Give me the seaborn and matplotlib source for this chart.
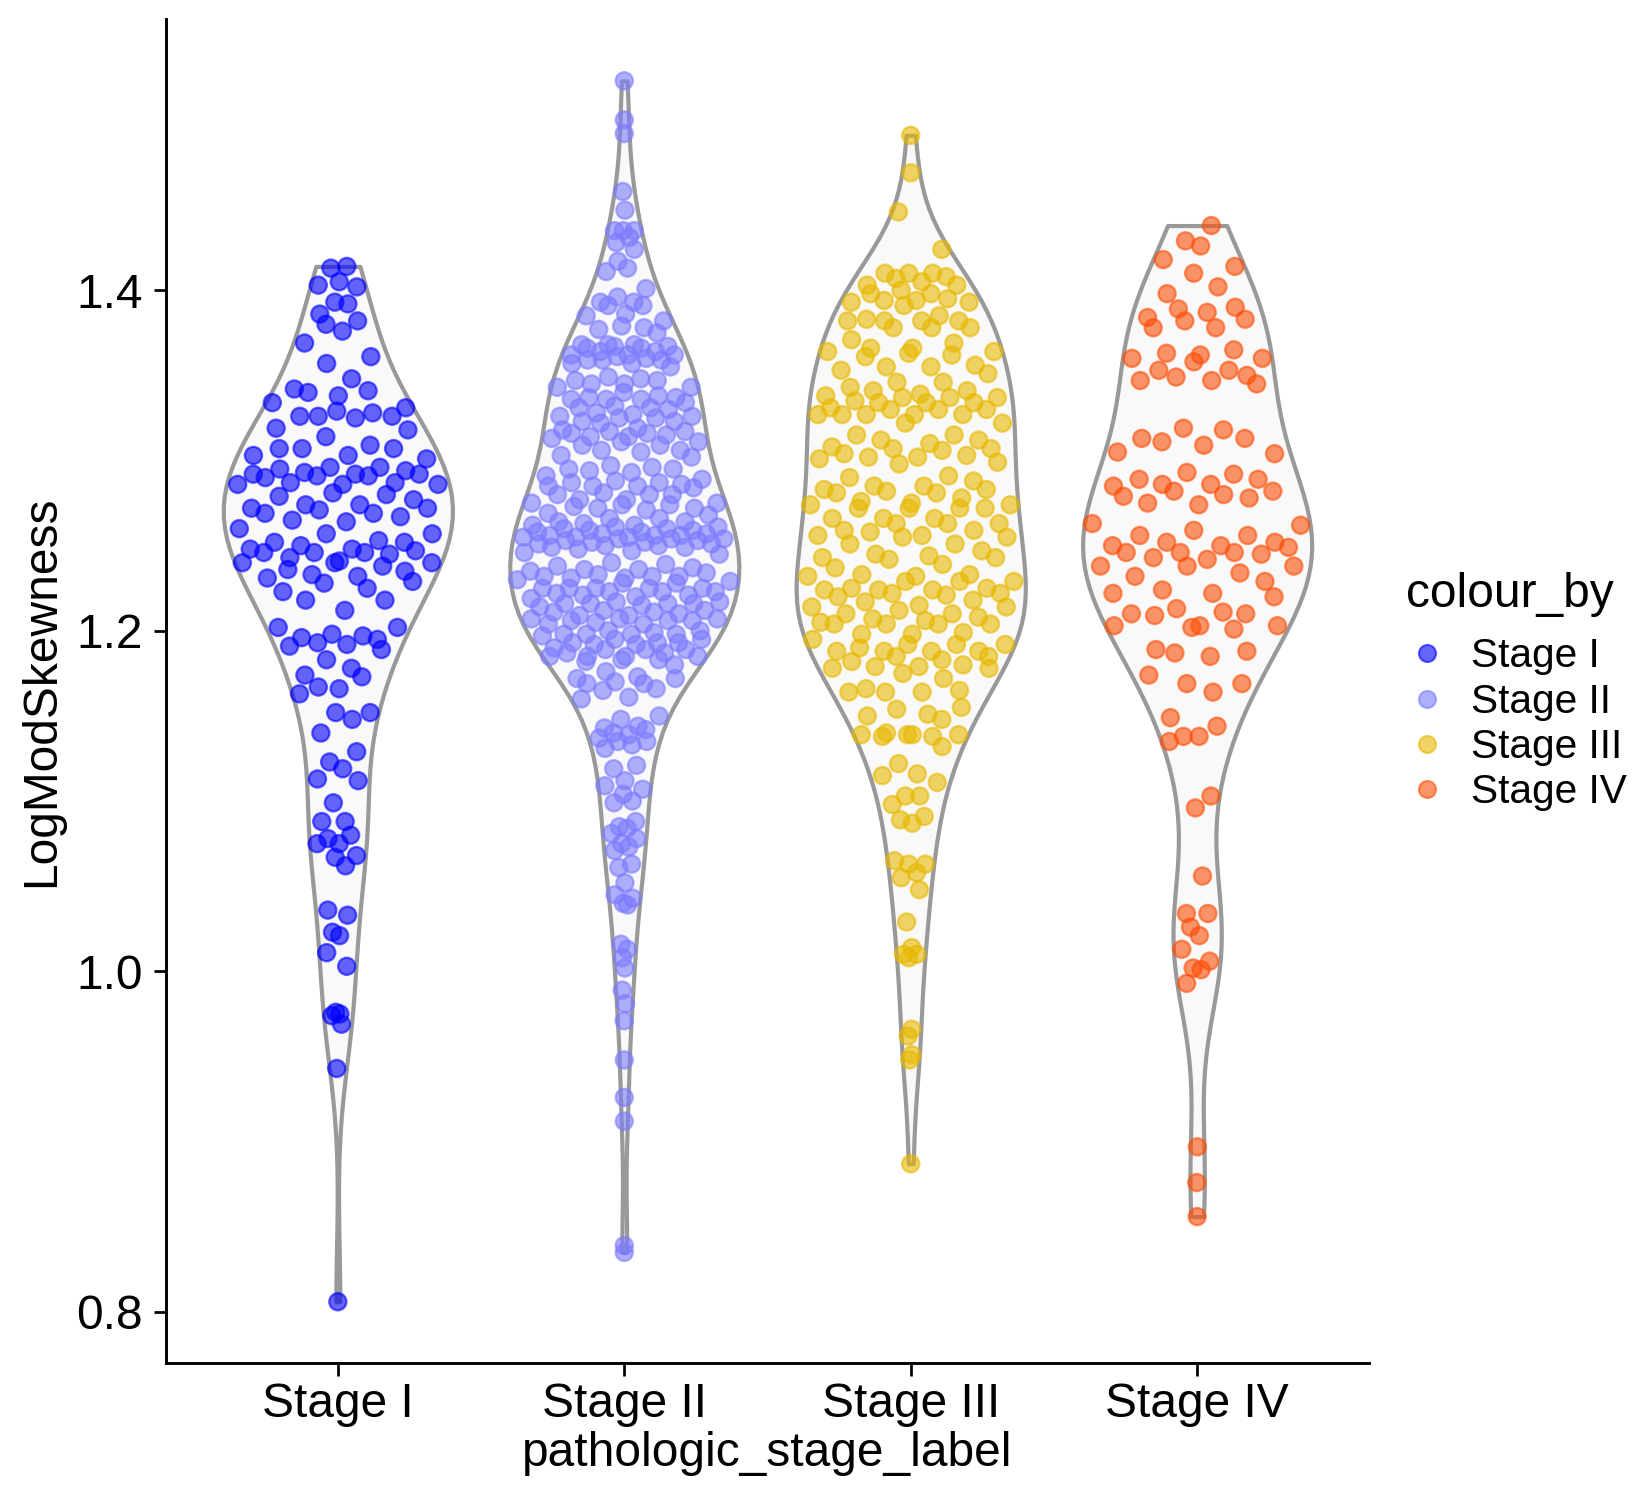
import numpy as np
import pandas as pd
import matplotlib
matplotlib.use("Agg")
import matplotlib.pyplot as plt
from matplotlib.lines import Line2D
import seaborn as sns

# values, one list per stage
stages = ["Stage I", "Stage II", "Stage III", "Stage IV"]
colours = ["#0000FF", "#7B7BFF", "#E7B800", "#FC4E07"]

stage_i = [
    1.414, 1.413, 1.405, 1.403, 1.402, 1.393, 1.392, 1.386, 1.382, 1.380, 1.376, 1.369,
    1.361, 1.357, 1.348, 1.342, 1.341, 1.340, 1.338, 1.334, 1.331, 1.329, 1.328, 1.326,
    1.326, 1.326, 1.325, 1.319, 1.318, 1.314, 1.309, 1.307, 1.307, 1.307, 1.303, 1.303,
    1.301, 1.296, 1.296, 1.295, 1.294, 1.293, 1.292, 1.292, 1.292, 1.291, 1.291, 1.290,
    1.287, 1.287, 1.286, 1.286, 1.286, 1.281, 1.280, 1.279, 1.277, 1.274, 1.274, 1.272,
    1.272, 1.271, 1.269, 1.269, 1.267, 1.265, 1.264, 1.260, 1.257, 1.257, 1.253, 1.252,
    1.252, 1.250, 1.248, 1.248, 1.247, 1.246, 1.246, 1.246, 1.245, 1.243, 1.241, 1.240,
    1.240, 1.240, 1.238, 1.236, 1.235, 1.233, 1.232, 1.231, 1.229, 1.228, 1.225, 1.223,
    1.218, 1.218, 1.212, 1.202, 1.202,
    1.198, 1.197, 1.196, 1.195, 1.193, 1.192, 1.191, 1.189, 1.183, 1.178, 1.174, 1.173,
    1.167, 1.166, 1.163, 1.152, 1.152, 1.148, 1.140, 1.129, 1.123, 1.119, 1.113, 1.112,
    1.099, 1.088, 1.088, 1.080, 1.078, 1.075, 1.075, 1.068, 1.067, 1.062, 1.036, 1.033,
    1.023, 1.021, 1.011, 1.003, 0.976, 0.975, 0.974, 0.969, 0.943, 0.806,
]

stage_ii = [
    1.523, 1.500, 1.492, 1.458, 1.447, 1.435, 1.435, 1.435, 1.431, 1.428, 1.424, 1.417,
    1.413, 1.411, 1.401, 1.396, 1.393, 1.393, 1.391, 1.391, 1.386, 1.385,
    1.379, 1.382, 1.377, 1.375, 1.378,
    1.367, 1.368, 1.368, 1.364, 1.362, 1.361, 1.360, 1.357, 1.355, 1.366, 1.367, 1.362,
    1.359, 1.368, 1.364, 1.357, 1.362, 1.366, 1.359, 1.359,
    1.348, 1.345, 1.343, 1.347, 1.349, 1.345, 1.343, 1.347, 1.337, 1.336, 1.337, 1.340,
    1.336, 1.336, 1.338, 1.334,
    1.331, 1.332, 1.330, 1.331, 1.325, 1.328, 1.326, 1.323, 1.326, 1.323, 1.327, 1.325,
    1.322, 1.319,
    1.317, 1.315, 1.314, 1.316, 1.318, 1.316, 1.314, 1.317, 1.311, 1.309, 1.313, 1.309,
    1.311, 1.306, 1.305, 1.306, 1.302, 1.303,
    1.295, 1.293, 1.296, 1.291, 1.295, 1.294, 1.297, 1.289, 1.287, 1.287, 1.288, 1.285,
    1.285, 1.285, 1.284, 1.286,
    1.280, 1.277, 1.280, 1.275, 1.280, 1.277, 1.281, 1.275, 1.272, 1.274, 1.273, 1.272,
    1.274, 1.271, 1.268, 1.269,
    1.264, 1.262, 1.266, 1.264, 1.266, 1.261,
    1.263, 1.262, 1.261, 1.260, 1.260, 1.259, 1.259, 1.258, 1.258, 1.257, 1.257, 1.256,
    1.256, 1.256, 1.255, 1.255, 1.255, 1.254, 1.254, 1.254, 1.253, 1.253, 1.252, 1.252,
    1.251, 1.251, 1.250, 1.250, 1.249, 1.249, 1.248, 1.247, 1.246, 1.245,
    1.238, 1.236, 1.240, 1.236, 1.239, 1.237, 1.234, 1.235, 1.230, 1.232, 1.231, 1.233,
    1.231, 1.232, 1.232, 1.229, 1.228, 1.225, 1.225, 1.228, 1.225, 1.225, 1.225, 1.222,
    1.221, 1.223, 1.219, 1.221, 1.223, 1.223, 1.220, 1.216, 1.217, 1.216, 1.214, 1.216,
    1.217, 1.216, 1.215, 1.209, 1.212, 1.211, 1.209, 1.211, 1.212, 1.210, 1.207, 1.206,
    1.204, 1.206, 1.207, 1.207, 1.204, 1.205, 1.206,
    1.198, 1.198, 1.197, 1.200, 1.198, 1.199, 1.198, 1.200, 1.193, 1.192, 1.195, 1.192,
    1.193, 1.193, 1.189, 1.190, 1.189, 1.189, 1.187, 1.185, 1.185, 1.195, 1.187, 1.185,
    1.185,
    1.182, 1.183, 1.180, 1.183, 1.176, 1.172, 1.172, 1.173, 1.170, 1.169, 1.169, 1.165,
    1.166, 1.160, 1.161,
    1.148, 1.150, 1.140, 1.143, 1.142, 1.144, 1.137, 1.133, 1.135, 1.135, 1.131, 1.139,
    1.121, 1.119, 1.112, 1.109, 1.107, 1.104, 1.100, 1.099, 1.088, 1.085, 1.084, 1.081,
    1.078, 1.075, 1.073, 1.071, 1.063, 1.061, 1.052, 1.045, 1.043, 1.040, 1.039, 1.016,
    1.013, 1.008, 1.002, 0.989, 0.981, 0.971, 0.948, 0.926, 0.912, 0.839, 0.835,
]

stage_iii = [
    1.491, 1.469, 1.446, 1.424, 1.410, 1.410, 1.410, 1.407, 1.408, 1.405, 1.403, 1.403,
    1.400, 1.398, 1.398, 1.395, 1.394, 1.394, 1.393, 1.393, 1.391, 1.383, 1.385, 1.382,
    1.382, 1.382, 1.382, 1.378, 1.378, 1.378, 1.371, 1.369, 1.366, 1.366, 1.364, 1.364,
    1.363, 1.362, 1.361, 1.356, 1.355, 1.355, 1.353, 1.351, 1.346, 1.346, 1.343, 1.341,
    1.341, 1.339, 1.338, 1.337, 1.337, 1.337, 1.335, 1.334, 1.334, 1.334, 1.331, 1.330,
    1.330, 1.330, 1.327, 1.327, 1.327, 1.327, 1.327, 1.322, 1.322, 1.315, 1.315, 1.312,
    1.312, 1.310, 1.308, 1.307, 1.307, 1.306, 1.304, 1.303, 1.302, 1.302, 1.301, 1.299,
    1.298, 1.291, 1.290, 1.288, 1.285, 1.285, 1.283, 1.283, 1.282, 1.281, 1.281, 1.278,
    1.276, 1.275, 1.274, 1.274, 1.272, 1.272, 1.272, 1.272,
    1.266, 1.266, 1.266, 1.263, 1.263, 1.263, 1.259, 1.259, 1.258, 1.256, 1.256, 1.255,
    1.255, 1.251, 1.251, 1.247, 1.245, 1.244, 1.243, 1.243, 1.242, 1.239, 1.237, 1.233,
    1.233, 1.232, 1.232, 1.229, 1.229, 1.229, 1.225, 1.225, 1.224, 1.224, 1.224, 1.222,
    1.222, 1.221, 1.220, 1.218, 1.217, 1.215, 1.214, 1.214, 1.212, 1.210, 1.210, 1.208,
    1.207, 1.206, 1.205, 1.204, 1.204, 1.204, 1.204, 1.199, 1.198, 1.198, 1.195, 1.192,
    1.192, 1.192, 1.190, 1.188, 1.188, 1.188, 1.188, 1.185, 1.185, 1.183, 1.182, 1.180,
    1.179, 1.179, 1.178, 1.178, 1.175, 1.172, 1.166, 1.165, 1.164, 1.164, 1.164, 1.155,
    1.154, 1.151, 1.150, 1.148, 1.140, 1.139, 1.139, 1.139, 1.139, 1.138, 1.138, 1.132,
    1.122, 1.116, 1.115, 1.111, 1.103, 1.103, 1.098, 1.091, 1.089, 1.087, 1.065, 1.063,
    1.063, 1.058, 1.055, 1.048, 1.029, 1.014, 1.010, 1.010, 1.008,
    0.966, 0.962, 0.951, 0.948, 0.887,
]

stage_iv = [
    1.438, 1.429, 1.426, 1.418, 1.414, 1.410, 1.402, 1.398, 1.390, 1.389, 1.387, 1.384,
    1.383, 1.382, 1.378, 1.378, 1.365, 1.363, 1.362, 1.360, 1.360, 1.358, 1.353, 1.353,
    1.350, 1.349, 1.347, 1.347, 1.345, 1.319, 1.318, 1.313, 1.313, 1.311, 1.309, 1.305,
    1.304, 1.293, 1.292, 1.289, 1.289, 1.286, 1.286, 1.285, 1.282, 1.282, 1.280, 1.279,
    1.278, 1.275, 1.274, 1.263, 1.262, 1.259, 1.256, 1.256, 1.252, 1.252, 1.250, 1.250,
    1.249, 1.246, 1.246, 1.246, 1.245, 1.243, 1.242, 1.238, 1.238, 1.238, 1.234, 1.232,
    1.229, 1.224, 1.222, 1.222, 1.220, 1.213, 1.211, 1.210, 1.210, 1.209, 1.203, 1.203,
    1.203, 1.202, 1.201,
    1.189, 1.187, 1.185, 1.188, 1.174, 1.169, 1.169, 1.164, 1.149, 1.144, 1.138, 1.138,
    1.135, 1.103, 1.096, 1.056, 1.034, 1.034, 1.026, 1.021, 1.013, 1.006, 1.002, 1.001,
    0.993, 0.897, 0.876, 0.856,
]

y_ticks = [0.8, 1.0, 1.2, 1.4]
BW_ADJUST = 0.85
VIOLIN_WIDTH = 0.8


def van_der_corput(n):
    out = np.zeros(n)
    for i in range(n):
        k, denom, v = i + 1, 1.0, 0.0
        while k:
            denom *= 2
            k, r = divmod(k, 2)
            v += r / denom
        out[i] = v
    return out


def quasirandom_x(vals, pos):
    # spread points like ggbeeswarm::geom_quasirandom, bounded by the violin width
    vals = np.asarray(vals)
    bw = vals.std(ddof=1) * len(vals) ** (-0.2) * BW_ADJUST
    dens = lambda y: np.exp(-0.5 * ((np.asarray(y)[:, None] - vals[None, :]) / bw) ** 2).sum(1)
    grid = np.linspace(vals.min(), vals.max(), 100)
    half = VIOLIN_WIDTH / 2 * dens(vals) / dens(grid).max()
    offs = np.zeros(len(vals))
    offs[np.argsort(vals, kind="stable")] = (van_der_corput(len(vals)) - 0.5) * 2
    return pos + offs * np.maximum(half - 0.022, 0)


groups = [stage_i, stage_ii, stage_iii, stage_iv]
df = pd.concat(
    [pd.DataFrame({"stage": s, "value": g, "xpos": quasirandom_x(g, i)})
     for i, (s, g) in enumerate(zip(stages, groups))],
    ignore_index=True,
)

sns.set_theme(style="ticks")
plt.rcParams["font.family"] = ["Liberation Sans", "DejaVu Sans"]
plt.rcParams["text.color"] = "black"
plt.rcParams["axes.labelcolor"] = "black"

fig = plt.figure(figsize=(11, 10), dpi=150)
ax = fig.add_axes([0.1006, 0.0913, 0.7291, 0.8957])

sns.violinplot(
    data=df, x="stage", y="value", order=stages, ax=ax,
    inner=None, cut=0, density_norm="width", bw_adjust=BW_ADJUST, width=VIOLIN_WIDTH,
    color="#F9F9F9", saturation=1, linecolor="#999999", linewidth=2.0,
)
sns.scatterplot(
    data=df, x="xpos", y="value", hue="stage", hue_order=stages, palette=colours,
    s=68, alpha=0.6, edgecolor="face", linewidth=1.1, legend=False, ax=ax, zorder=3,
)

ax.set_xlim(-0.6, 3.6)
ax.set_ylim(0.77, 1.559)
ax.set_yticks(y_ticks)
ax.set_yticklabels([f"{t:.1f}" for t in y_ticks])
ax.set_xticks(range(len(stages)))
ax.set_xticklabels(stages)
ax.set_xlabel("pathologic_stage_label", fontsize=23, labelpad=2, color="black")
ax.set_ylabel("LogModSkewness", fontsize=23, labelpad=6, color="black")
ax.tick_params(axis="both", labelsize=23, length=6, width=1.3, color="black", labelcolor="black")
ax.tick_params(axis="y", pad=5)
ax.tick_params(axis="x", pad=3)
for side in ["top", "right"]:
    ax.spines[side].set_visible(False)
for side in ["left", "bottom"]:
    ax.spines[side].set_linewidth(1.4)
    ax.spines[side].set_color("black")

handles = [Line2D([], [], marker="o", linestyle="", markersize=8.2, color=c,
                  markeredgecolor=c, alpha=0.6) for c in colours]
leg = fig.legend(
    handles, stages, title="colour_by", loc="center left", bbox_to_anchor=(0.84, 0.539),
    frameon=False, fontsize=19.5, title_fontsize=23, handlelength=1.0,
    handletextpad=0.6, labelspacing=0.18, borderpad=0, alignment="left",
)
# a little more room between the title and the keys, as ggplot draws it
leg._legend_box.sep = 10

fig.savefig("out.png", dpi=150)
